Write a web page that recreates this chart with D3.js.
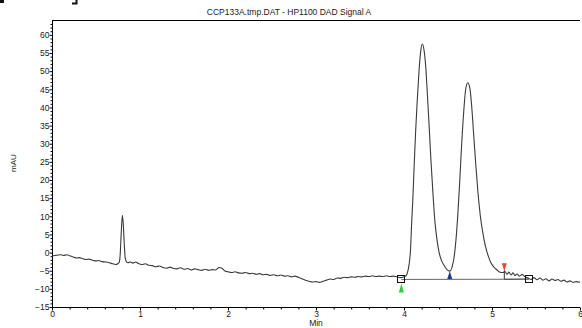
<!DOCTYPE html>
<html>
<head>
<meta charset="utf-8">
<script src="https://cdn.jsdelivr.net/npm/d3@7"></script>
<style>
  html, body { margin: 0; padding: 0; background: #fff; }
  svg { display: block; }
  text { font-family: "Liberation Sans", Arial, sans-serif; fill: #222; }
</style>
</head>
<body>
<svg id="chart" width="582" height="328"></svg>
<script>
// Signal trace: retention time (min) and detector response (mAU)
const times = [
  0.00, 0.03, 0.06, 0.10, 0.13, 0.17, 0.20, 0.24, 0.28, 0.31, 0.35, 0.39, 0.42, 0.46, 0.50, 0.53, 0.57, 0.61, 0.65, 0.69, 0.72, 0.75,
  0.765, 0.775, 0.787, 0.80, 0.812, 0.822, 0.832, 0.842,
  0.86, 0.89, 0.92, 0.95, 0.98, 1.02, 1.06, 1.10, 1.14, 1.18, 1.22, 1.26, 1.30, 1.34, 1.38, 1.42, 1.46,
  1.50, 1.54, 1.58, 1.62, 1.66, 1.70, 1.74, 1.78, 1.82, 1.86, 1.90, 1.93, 1.96,
  2.00, 2.04, 2.08, 2.12, 2.16, 2.20, 2.24, 2.28, 2.32, 2.36, 2.40, 2.44, 2.48, 2.52, 2.56, 2.60, 2.64, 2.68, 2.72, 2.76, 2.80,
  2.84, 2.88, 2.92, 2.96, 3.00, 3.04, 3.08, 3.12, 3.16, 3.20, 3.24, 3.28, 3.32, 3.36, 3.40, 3.44, 3.48, 3.52, 3.56, 3.60,
  3.64, 3.68, 3.72, 3.76, 3.80, 3.84, 3.88, 3.92, 3.96,
  4.011, 4.034, 4.057, 4.074, 4.086, 4.100, 4.116, 4.133, 4.151, 4.170, 4.189, 4.208, 4.227, 4.248, 4.266, 4.285, 4.306,
  4.330, 4.352, 4.375, 4.400, 4.428, 4.460, 4.489, 4.523, 4.548, 4.568, 4.588, 4.609, 4.631, 4.655, 4.680, 4.700, 4.724,
  4.748, 4.768, 4.792, 4.816, 4.840, 4.866, 4.894, 4.925, 4.957, 4.989, 5.023, 5.057, 5.091, 5.125,
  5.148, 5.170, 5.193, 5.216, 5.239, 5.261, 5.284, 5.313, 5.341, 5.375, 5.409,
  5.443, 5.477, 5.511, 5.545, 5.580, 5.614, 5.648, 5.682, 5.716, 5.750, 5.784, 5.818, 5.852, 5.886, 5.920, 5.955, 6.000
];
const mAU = [
  -1.0, -0.8, -0.7, -0.6, -0.8, -0.6, -0.9, -1.2, -1.5, -1.4, -1.7, -1.9, -1.8, -2.1, -2.3, -2.2, -2.5, -2.6, -2.8, -3.1, -3.3, -3.0,
  -2.6, -0.5, 5.5, 10.3, 7.0, 2.0, -1.5, -2.4,
  -2.8, -2.6, -2.9, -2.6, -3.0, -3.3, -3.1, -3.5, -3.6, -3.9, -3.7, -4.1, -4.3, -4.0, -4.4, -4.5, -4.2,
  -4.6, -4.4, -4.8, -4.5, -4.7, -4.9, -4.6, -4.9, -4.7, -4.8, -4.1, -4.3, -5.0,
  -5.3, -5.5, -5.3, -5.6, -5.7, -5.5, -5.8, -5.7, -6.0, -5.8, -6.1, -6.0, -6.3, -6.1, -6.4, -6.2, -6.5, -6.4, -6.7, -6.5, -6.8,
  -7.2, -7.6, -7.9, -8.1, -8.0, -8.2, -7.9, -7.6, -7.3, -7.4, -7.0, -7.1, -6.8, -6.9, -6.7, -6.8, -6.6, -6.7, -6.5, -6.6,
  -6.4, -6.6, -6.5, -6.6, -6.4, -6.6, -6.5, -6.7, -6.9,
  -6.6, -5.9, -3.4, 0.7, 7.6, 14.5, 24.2, 33.8, 42.1, 49.8, 55.3, 57.5, 55.9, 50.9, 43.5, 35.2, 25.5,
  15.9, 8.4, 3.5, -0.1, -2.3, -3.7, -4.7, -5.1, -3.8, -1.5, 2.8, 9.5, 18.6, 29.7, 39.3, 44.8, 46.8,
  45.4, 40.7, 32.4, 24.2, 16.7, 10.4, 5.7, 1.8, -0.9, -2.9, -4.0, -4.8, -5.4, -5.5,
  -5.2, -6.0, -5.4, -6.2, -5.6, -6.4, -5.9, -6.5, -6.0, -6.7, -7.0,
  -7.4, -6.9, -7.5, -7.0, -7.6, -7.2, -7.8, -7.3, -7.7, -7.4, -7.9, -7.6, -8.1, -7.8, -8.2, -8.0, -8.2
];

// Integration events: drawn baseline and peak markers
const baselineStart = [3.97, -7.4];
const baselineEnd = [5.42, -7.3];
const markerStart = [3.97, -7.4];   // green: peak start
const markerValley = [4.52, -7.3];  // blue: valley drop
const markerEnd = [5.14, -7.35];    // red: peak end

const xTicks = [0, 1, 2, 3, 4, 5, 6];
const yTicks = [-15, -10, -5, 0, 5, 10, 15, 20, 25, 30, 35, 40, 45, 50, 55, 60];

const titleText = "CCP133A.tmp.DAT - HP1100 DAD Signal A";
const xTitle = "Min";
const yTitle = "mAU";

const margin = { left: 52, right: 2, top: 20, bottom: 21 };
const W = 582, H = 328;

const svg = d3.select("#chart");

const x = d3.scaleLinear().domain([0, 6]).range([margin.left, W - margin.right]);
const y = d3.scaleLinear().domain([-15, 64.1]).range([H - margin.bottom, margin.top]);

// clipped fragments along the top edge
svg.append("rect").attr("x", 0).attr("y", 0).attr("width", 4).attr("height", 3).attr("fill", "#111");
svg.append("path").attr("d", "M76.5,0 V3.5 H72").attr("fill", "none").attr("stroke", "#111").attr("stroke-width", 2);

// title
svg.append("text")
  .attr("x", 289).attr("y", 14.5)
  .attr("text-anchor", "middle")
  .style("font-size", "8.5px")
  .text(titleText);

// frame top
svg.append("line")
  .attr("x1", x(0)).attr("x2", x(6))
  .attr("y1", y.range()[1] + 0.5).attr("y2", y.range()[1] + 0.5)
  .attr("stroke", "#000").attr("stroke-width", 1);

// y axis: major + minor ticks
const yMinor = d3.range(-15, 64, 1).filter(v => v % 5 !== 0);
svg.append("g")
  .attr("transform", `translate(${x(0) + 0.5},0)`)
  .call(d3.axisLeft(y).tickValues(yMinor).tickSize(2).tickFormat(""))
  .call(g => g.select(".domain").remove());
const gy = svg.append("g")
  .attr("transform", `translate(${x(0) + 0.5},0)`)
  .call(d3.axisLeft(y).tickValues(yTicks).tickSize(3).tickPadding(0).tickFormat(d3.format("d")));
gy.select(".domain").attr("d", `M0,${y.range()[1]}V${y.range()[0]}`);
gy.selectAll("text").style("font-size", "8.5px").attr("fill", "#222");

// x axis: major + minor ticks
const xMinor = d3.range(0, 6.001, 0.2).filter(v => Math.abs(v - Math.round(v)) > 0.01);
svg.append("g")
  .attr("transform", `translate(0,${y(-15) + 0.5})`)
  .call(d3.axisBottom(x).tickValues(xMinor).tickSize(2).tickFormat(""))
  .call(g => g.select(".domain").remove());
const gx = svg.append("g")
  .attr("transform", `translate(0,${y(-15) + 0.5})`)
  .call(d3.axisBottom(x).tickValues(xTicks).tickSize(3).tickPadding(0).tickFormat(d3.format("d")));
gx.select(".domain").attr("d", `M${x.range()[0]},0H${x.range()[1]}`);
gx.selectAll("text").style("font-size", "8.5px").attr("fill", "#222");
svg.selectAll(".tick line").attr("stroke", "#000");

// axis titles
svg.append("text")
  .attr("x", x(3)).attr("y", 326)
  .attr("text-anchor", "middle")
  .style("font-size", "8.5px")
  .text(xTitle);
svg.append("text")
  .attr("transform", `translate(16,163) rotate(-90)`)
  .attr("text-anchor", "middle")
  .style("font-size", "8px")
  .text(yTitle);

// integration baseline
svg.append("line")
  .attr("x1", x(baselineStart[0])).attr("y1", y(baselineStart[1]))
  .attr("x2", x(markerEnd[0])).attr("y2", y(markerEnd[1]))
  .attr("stroke", "#666").attr("stroke-width", 1);
svg.append("line")
  .attr("x1", x(markerEnd[0])).attr("y1", y(markerEnd[1]))
  .attr("x2", x(baselineEnd[0])).attr("y2", y(baselineEnd[1]))
  .attr("stroke", "#111").attr("stroke-width", 1);

// signal trace
const pts = times.map((t, i) => [t, mAU[i]]);
const line = d3.line().x(d => x(d[0])).y(d => y(d[1])).curve(d3.curveMonotoneX);
svg.append("path")
  .datum(pts)
  .attr("d", line)
  .attr("fill", "none")
  .attr("stroke", "#3a3a3a")
  .attr("stroke-width", 1.1)
  .attr("stroke-linejoin", "round");

// baseline end boxes
[baselineStart, baselineEnd].forEach(p => {
  svg.append("rect")
    .attr("x", Math.round(x(p[0])) - 3.5).attr("y", Math.round(y(p[1])) - 3.5)
    .attr("width", 7).attr("height", 7)
    .attr("fill", "none").attr("stroke", "#111").attr("stroke-width", 1);
});

// peak start marker (green, below baseline, pointing up)
{
  const cx = x(markerStart[0]), cy = y(markerStart[1]);
  svg.append("path")
    .attr("d", `M${cx},${cy + 4} L${cx + 2.5},${cy + 13} L${cx - 2.5},${cy + 13} Z`)
    .attr("fill", "#2ecc40");
}
// valley marker (blue, pointing up to the valley)
{
  const cx = x(markerValley[0]), cy = y(markerValley[1]);
  svg.append("path")
    .attr("d", `M${cx},${cy - 8} L${cx + 2.5},${cy} L${cx - 2.5},${cy} Z`)
    .attr("fill", "#1f3a93");
}
// peak end marker (red, pointing down, with drop line)
{
  const cx = x(markerEnd[0]), cy = y(markerEnd[1]);
  svg.append("line")
    .attr("x1", cx).attr("x2", cx).attr("y1", cy - 9).attr("y2", cy)
    .attr("stroke", "#333").attr("stroke-width", 1);
  svg.append("path")
    .attr("d", `M${cx - 2.5},${cy - 16} L${cx + 2.5},${cy - 16} L${cx},${cy - 8} Z`)
    .attr("fill", "#e8453c");
}
</script>
</body>
</html>
